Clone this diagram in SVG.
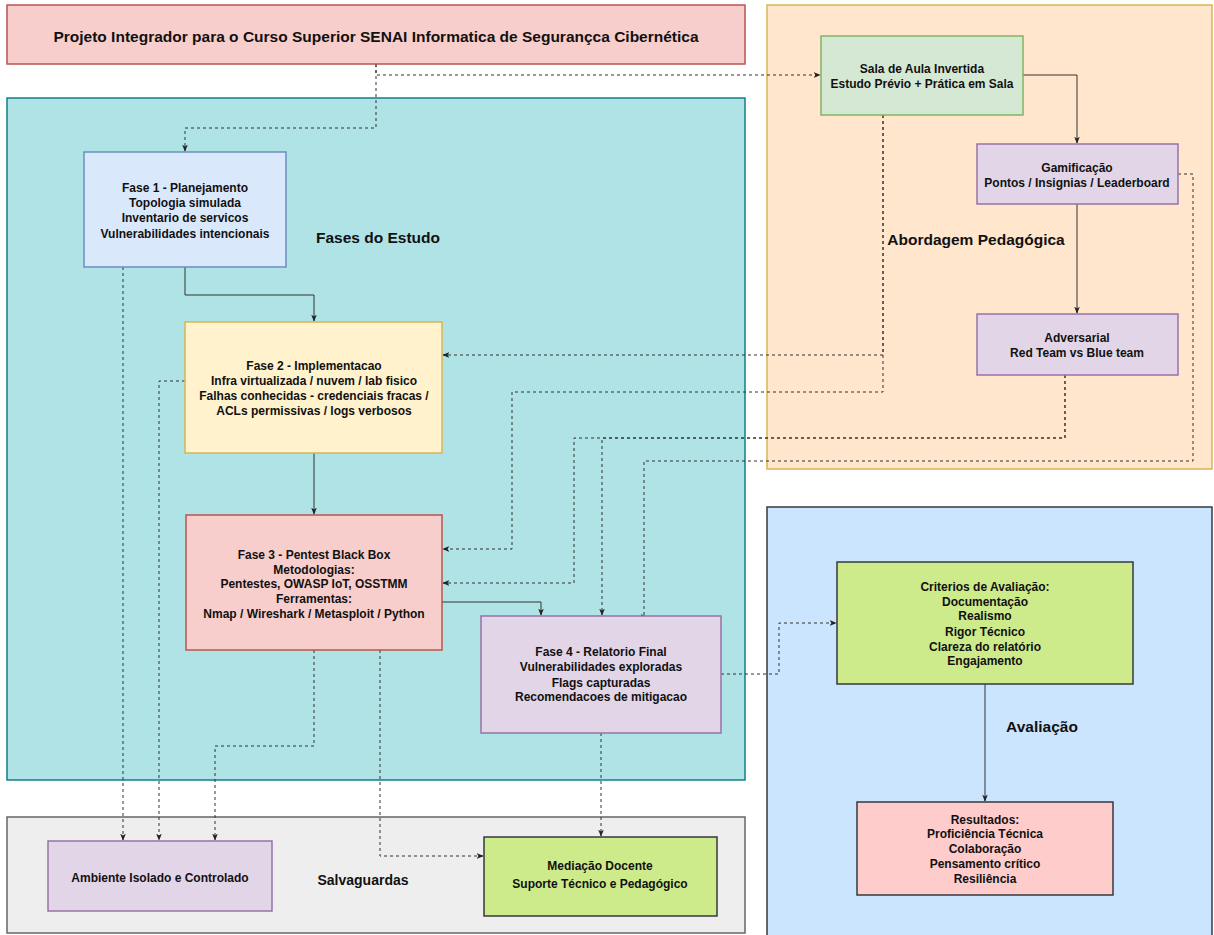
<svg xmlns="http://www.w3.org/2000/svg" width="1214" height="935" viewBox="0 0 1214 935">
<style>
text{font-family:"Liberation Sans",Arial,sans-serif;font-weight:bold;fill:#111;text-anchor:middle}
.n{font-size:12px}
.t{font-size:14px}
.h{font-size:15px}
.g{font-size:15.5px}
.c{fill:none;stroke:#333;stroke-width:1}
.d{stroke-dasharray:3 3}
</style>
<defs>
<marker id="a" viewBox="0 0 10 10" refX="9" refY="5" markerWidth="7" markerHeight="7" orient="auto" markerUnits="userSpaceOnUse">
<path d="M0,1 L10,5 L0,9 L2.5,5 Z" fill="#222"/>
</marker>
</defs>
<rect width="1214" height="935" fill="#fff"/>
<g id="containers">
<rect id="fases" x="7" y="98" width="738" height="682" fill="#b0e3e6" stroke="#0e8088" stroke-width="1.5"/>
<rect id="abordagem" x="767" y="5" width="445" height="464" fill="#ffe6cc" stroke="#d6b656" stroke-width="1.5"/>
<rect id="avaliacao" x="767" y="507" width="445" height="430" fill="#cce5ff" stroke="#36393d" stroke-width="1.5"/>
<rect id="salvaguardas" x="7" y="817" width="738" height="116" fill="#eeeeee" stroke="#666" stroke-width="1.5"/>
<text class="g" x="378" y="243">Fases do Estudo</text>
<text class="g" x="976" y="245">Abordagem Pedagógica</text>
<text class="g" x="1042" y="732">Avaliação</text>
<text class="t" x="363" y="885">Salvaguardas</text>
</g>
<g id="connectors">
<path class="c d" d="M376,64 V75 H820" marker-end="url(#a)"/>
<path class="c d" d="M376,64 V128 H185 V151" marker-end="url(#a)"/>
<path class="c" d="M185,267 V295 H314 V321" marker-end="url(#a)"/>
<path class="c" d="M314,453 V514" marker-end="url(#a)"/>
<path class="c" d="M442,602 H541 V615" marker-end="url(#a)"/>
<path class="c" d="M1023,75 H1077 V143" marker-end="url(#a)"/>
<path class="c" d="M1077,204 V313" marker-end="url(#a)"/>
<path class="c" d="M985,684 V801" marker-end="url(#a)"/>
<path class="c d" d="M883,115 V355 H443" marker-end="url(#a)"/>
<path class="c d" d="M883,115 V392 H512 V549 H443" marker-end="url(#a)"/>
<path class="c d" d="M1065,375 V438 H574 V583 H443" marker-end="url(#a)"/>
<path class="c d" d="M1065,375 V438 H602 V615" marker-end="url(#a)"/>
<path class="c d" d="M1178,174 H1193 V461 H644 V617 H647" marker-end="url(#a)"/>
<path class="c d" d="M721,674 H779 V623 H836" marker-end="url(#a)"/>
<path class="c d" d="M123,267 V840" marker-end="url(#a)"/>
<path class="c d" d="M185,381 H159 V840" marker-end="url(#a)"/>
<path class="c d" d="M314,650 V746 H215 V840" marker-end="url(#a)"/>
<path class="c d" d="M380,650 V856 H483" marker-end="url(#a)"/>
<path class="c d" d="M601,733 V836" marker-end="url(#a)"/>
</g>
<g id="title">
<rect x="7" y="5" width="738" height="59" fill="#f8cecc" stroke="#b85450" stroke-width="1.5"/>
<text class="g" x="376" y="42">Projeto Integrador para o Curso Superior SENAI Informatica de Segurançca Cibernética</text>
</g>
<g id="fase1">
<rect x="84" y="152" width="202" height="115" fill="#dae8fc" stroke="#6c8ebf" stroke-width="1.5"/>
<text class="n" x="185" y="192">Fase 1 - Planejamento</text>
<text class="n" x="185" y="207">Topologia simulada</text>
<text class="n" x="185" y="222">Inventario de servicos</text>
<text class="n" x="185" y="238">Vulnerabilidades intencionais</text>
</g>
<g id="fase2">
<rect x="185" y="322" width="257" height="131" fill="#fff2cc" stroke="#d6b656" stroke-width="1.5"/>
<text class="n" x="314" y="370">Fase 2 - Implementacao</text>
<text class="n" x="314" y="385">Infra virtualizada / nuvem / lab fisico</text>
<text class="n" x="314" y="400">Falhas conhecidas - credenciais fracas /</text>
<text class="n" x="314" y="415">ACLs permissivas / logs verbosos</text>
</g>
<g id="fase3">
<rect x="186" y="515" width="256" height="135" fill="#f8cecc" stroke="#b85450" stroke-width="1.5"/>
<text class="n" x="314" y="559">Fase 3 - Pentest Black Box</text>
<text class="n" x="314" y="574">Metodologias:</text>
<text class="n" x="314" y="588">Pentestes, OWASP IoT, OSSTMM</text>
<text class="n" x="314" y="603">Ferramentas:</text>
<text class="n" x="314" y="618">Nmap / Wireshark / Metasploit / Python</text>
</g>
<g id="fase4">
<rect x="481" y="616" width="240" height="117" fill="#e1d5e7" stroke="#9673a6" stroke-width="1.5"/>
<text class="n" x="601" y="656">Fase 4 - Relatorio Final</text>
<text class="n" x="601" y="671">Vulnerabilidades exploradas</text>
<text class="n" x="601" y="687">Flags capturadas</text>
<text class="n" x="601" y="701">Recomendacoes de mitigacao</text>
</g>
<g id="sala">
<rect x="821" y="36" width="202" height="79" fill="#d5e8d4" stroke="#82b366" stroke-width="1.5"/>
<text class="n" x="922" y="73">Sala de Aula Invertida</text>
<text class="n" x="922" y="88">Estudo Prévio + Prática em Sala</text>
</g>
<g id="gamificacao">
<rect x="977" y="144" width="201" height="60" fill="#e1d5e7" stroke="#9673a6" stroke-width="1.5"/>
<text class="n" x="1077" y="172">Gamificação</text>
<text class="n" x="1077" y="187">Pontos / Insignias / Leaderboard</text>
</g>
<g id="adversarial">
<rect x="977" y="314" width="201" height="61" fill="#e1d5e7" stroke="#9673a6" stroke-width="1.5"/>
<text class="n" x="1077" y="342">Adversarial</text>
<text class="n" x="1077" y="357">Red Team vs Blue team</text>
</g>
<g id="criterios">
<rect x="837" y="562" width="296" height="122" fill="#cdeb8b" stroke="#36393d" stroke-width="1.5"/>
<text class="n" x="985" y="591">Criterios de Avaliação:</text>
<text class="n" x="985" y="606">Documentação</text>
<text class="n" x="985" y="620">Realismo</text>
<text class="n" x="985" y="636">Rigor Técnico</text>
<text class="n" x="985" y="651">Clareza do relatório</text>
<text class="n" x="985" y="665">Engajamento</text>
</g>
<g id="resultados">
<rect x="857" y="802" width="256" height="93" fill="#ffcccc" stroke="#36393d" stroke-width="1.5"/>
<text class="n" x="985" y="824">Resultados:</text>
<text class="n" x="985" y="838">Proficiência Técnica</text>
<text class="n" x="985" y="853">Colaboração</text>
<text class="n" x="985" y="868">Pensamento crítico</text>
<text class="n" x="985" y="883">Resiliência</text>
</g>
<g id="ambiente">
<rect x="48" y="841" width="224" height="70" fill="#e1d5e7" stroke="#9673a6" stroke-width="1.5"/>
<text class="n" x="160" y="882">Ambiente Isolado e Controlado</text>
</g>
<g id="mediacao">
<rect x="484" y="837" width="233" height="79" fill="#cdeb8b" stroke="#36393d" stroke-width="1.5"/>
<text class="n" x="600" y="870">Mediação Docente</text>
<text class="n" x="600" y="888">Suporte Técnico e Pedagógico</text>
</g>
</svg>
